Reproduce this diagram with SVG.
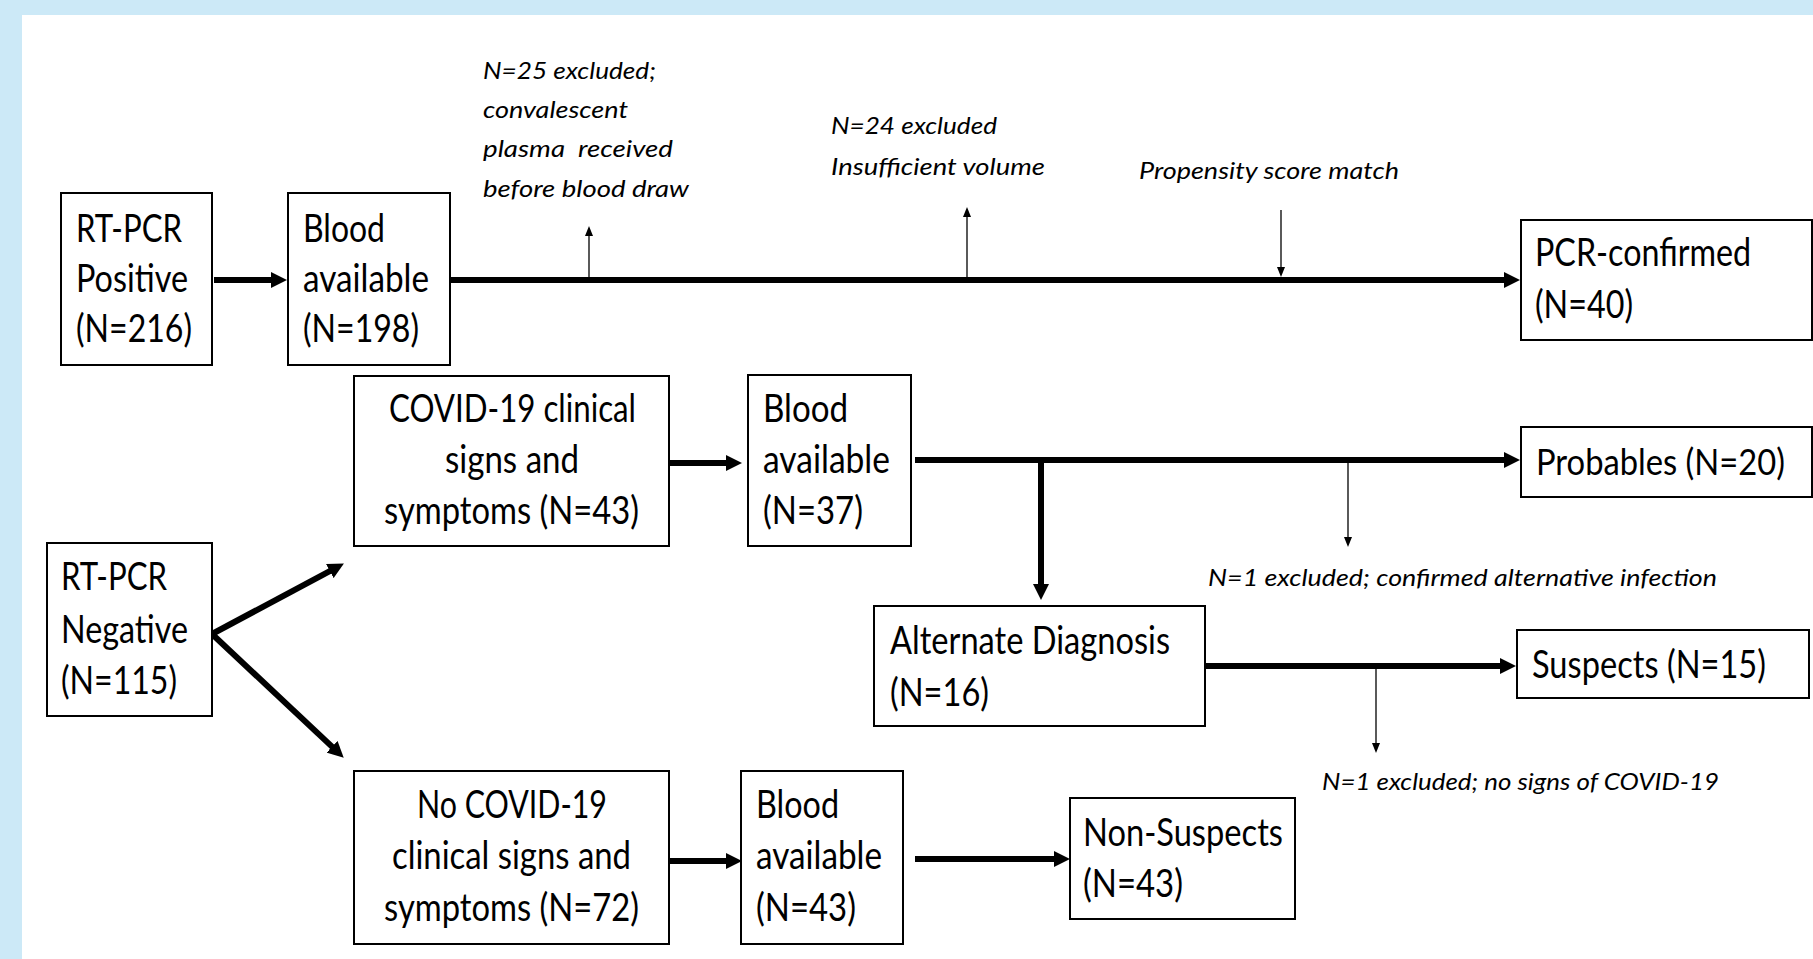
<svg xmlns="http://www.w3.org/2000/svg" width="1813" height="959" viewBox="0 0 1813 959">
<defs>
<style>
.box{fill:#fff;stroke:#000;stroke-width:2}
.t{font-family:Lato,"Open Sans","Liberation Sans",sans-serif;font-size:39px;fill:#000}
.i{font-family:Lato,"Open Sans","Liberation Sans",sans-serif;font-size:24px;font-style:italic;fill:#000}
.thick{stroke:#000;stroke-width:6;fill:none}
.thin{stroke:#000;stroke-width:1.3;fill:none}
</style>
<marker id="ah" viewBox="0 0 16 16" markerWidth="16" markerHeight="16" refX="1" refY="8" orient="auto" markerUnits="userSpaceOnUse">
<path d="M0,0 L16,8 L0,16 z" fill="#000"/>
</marker>
<marker id="as" viewBox="0 0 10 8" markerWidth="10" markerHeight="8" refX="1" refY="4" orient="auto" markerUnits="userSpaceOnUse">
<path d="M0,0 L10,4 L0,8 z" fill="#000"/>
</marker>
</defs>
<rect x="0" y="0" width="1813" height="959" fill="#CCE9F7"/>
<rect x="22" y="15" width="1791" height="944" fill="#fff"/>

<g id="connectors">
<line class="thick" x1="214" y1="280" x2="272" y2="280" marker-end="url(#ah)"/>
<line class="thick" x1="450" y1="280" x2="1505" y2="280" marker-end="url(#ah)"/>
<line class="thin" x1="589" y1="280" x2="589" y2="235" marker-end="url(#as)"/>
<line class="thin" x1="967" y1="280" x2="967" y2="216" marker-end="url(#as)"/>
<line class="thin" x1="1281" y1="210" x2="1281" y2="268" marker-end="url(#as)"/>
<line class="thick" x1="669" y1="463" x2="727" y2="463" marker-end="url(#ah)"/>
<line class="thick" x1="915" y1="460" x2="1505" y2="460" marker-end="url(#ah)"/>
<line class="thick" x1="1041" y1="460" x2="1041" y2="585" marker-end="url(#ah)"/>
<line class="thin" x1="1348" y1="460" x2="1348" y2="538" marker-end="url(#as)"/>
<line class="thick" x1="1205" y1="666" x2="1501" y2="666" marker-end="url(#ah)"/>
<line class="thin" x1="1376" y1="666" x2="1376" y2="744" marker-end="url(#as)"/>
<line class="thick" x1="212" y1="634" x2="330.7" y2="570.6" marker-end="url(#ah)"/>
<line class="thick" x1="212" y1="634" x2="332.8" y2="747.4" marker-end="url(#ah)"/>
<line class="thick" x1="669" y1="861" x2="727" y2="861" marker-end="url(#ah)"/>
<line class="thick" x1="915" y1="859" x2="1055" y2="859" marker-end="url(#ah)"/>
</g>

<g id="labels">
<text class="i" x="483" y="79" textLength="173" lengthAdjust="spacingAndGlyphs">N=25 excluded;</text>
<text class="i" x="483" y="118" textLength="145" lengthAdjust="spacingAndGlyphs">convalescent</text>
<text class="i" x="483" y="157" textLength="190" lengthAdjust="spacingAndGlyphs" xml:space="preserve">plasma  received</text>
<text class="i" x="483" y="197" textLength="206" lengthAdjust="spacingAndGlyphs">before blood draw</text>
<text class="i" x="831" y="134" textLength="166" lengthAdjust="spacingAndGlyphs">N=24 excluded</text>
<text class="i" x="831" y="175" textLength="214" lengthAdjust="spacingAndGlyphs">Insufficient volume</text>
<text class="i" x="1139" y="179" textLength="260" lengthAdjust="spacingAndGlyphs">Propensity score match</text>
<text class="i" x="1208" y="586" textLength="509" lengthAdjust="spacingAndGlyphs">N=1 excluded; confirmed alternative infection</text>
<text class="i" x="1322" y="790" textLength="397" lengthAdjust="spacingAndGlyphs">N=1 excluded; no signs of COVID-19</text>
</g>

<g id="rtpcr-positive">
<rect class="box" x="61" y="193" width="151" height="172"/>
<text class="t" x="76" y="242" textLength="106" lengthAdjust="spacingAndGlyphs">RT-PCR</text>
<text class="t" x="76" y="292" textLength="112" lengthAdjust="spacingAndGlyphs">Positive</text>
<text class="t" x="76" y="342" textLength="116" lengthAdjust="spacingAndGlyphs">(N=216)</text>
</g>
<g id="blood-198">
<rect class="box" x="288" y="193" width="162" height="172"/>
<text class="t" x="303" y="242" textLength="82" lengthAdjust="spacingAndGlyphs">Blood</text>
<text class="t" x="303" y="292" textLength="126" lengthAdjust="spacingAndGlyphs">available</text>
<text class="t" x="303" y="342" textLength="116" lengthAdjust="spacingAndGlyphs">(N=198)</text>
</g>
<g id="pcr-confirmed">
<rect class="box" x="1521" y="220" width="291" height="120"/>
<text class="t" x="1535" y="266" textLength="216" lengthAdjust="spacingAndGlyphs">PCR-confirmed</text>
<text class="t" x="1535" y="318" textLength="98" lengthAdjust="spacingAndGlyphs">(N=40)</text>
</g>
<g id="covid-signs">
<rect class="box" x="354" y="376" width="315" height="170"/>
<text class="t" x="389" y="422" textLength="247" lengthAdjust="spacingAndGlyphs">COVID-19 clinical</text>
<text class="t" x="445" y="473" textLength="134" lengthAdjust="spacingAndGlyphs">signs and</text>
<text class="t" x="384" y="524" textLength="255" lengthAdjust="spacingAndGlyphs">symptoms (N=43)</text>
</g>
<g id="blood-37">
<rect class="box" x="748" y="375" width="163" height="171"/>
<text class="t" x="763" y="422" textLength="85" lengthAdjust="spacingAndGlyphs">Blood</text>
<text class="t" x="763" y="473" textLength="127" lengthAdjust="spacingAndGlyphs">available</text>
<text class="t" x="763" y="524" textLength="100" lengthAdjust="spacingAndGlyphs">(N=37)</text>
</g>
<g id="probables">
<rect class="box" x="1521" y="427" width="291" height="70"/>
<text class="t" x="1536" y="475" style="font-size:36px" textLength="249" lengthAdjust="spacingAndGlyphs">Probables (N=20)</text>
</g>
<g id="rtpcr-negative">
<rect class="box" x="47" y="543" width="165" height="173"/>
<text class="t" x="61" y="590" textLength="106" lengthAdjust="spacingAndGlyphs">RT-PCR</text>
<text class="t" x="61" y="643" textLength="127" lengthAdjust="spacingAndGlyphs">Negative</text>
<text class="t" x="61" y="694" textLength="116" lengthAdjust="spacingAndGlyphs">(N=115)</text>
</g>
<g id="alternate-diagnosis">
<rect class="box" x="874" y="606" width="331" height="120"/>
<text class="t" x="890" y="654" textLength="280" lengthAdjust="spacingAndGlyphs">Alternate Diagnosis</text>
<text class="t" x="890" y="706" textLength="99" lengthAdjust="spacingAndGlyphs">(N=16)</text>
</g>
<g id="suspects">
<rect class="box" x="1517" y="630" width="292" height="68"/>
<text class="t" x="1532" y="678" textLength="234" lengthAdjust="spacingAndGlyphs">Suspects (N=15)</text>
</g>
<g id="no-covid-signs">
<rect class="box" x="354" y="771" width="315" height="173"/>
<text class="t" x="417" y="818" textLength="190" lengthAdjust="spacingAndGlyphs">No COVID-19</text>
<text class="t" x="392" y="869" textLength="239" lengthAdjust="spacingAndGlyphs">clinical signs and</text>
<text class="t" x="384" y="921" textLength="255" lengthAdjust="spacingAndGlyphs">symptoms (N=72)</text>
</g>
<g id="blood-43">
<rect class="box" x="741" y="771" width="162" height="173"/>
<text class="t" x="756" y="818" textLength="83" lengthAdjust="spacingAndGlyphs">Blood</text>
<text class="t" x="756" y="869" textLength="126" lengthAdjust="spacingAndGlyphs">available</text>
<text class="t" x="756" y="921" textLength="100" lengthAdjust="spacingAndGlyphs">(N=43)</text>
</g>
<g id="non-suspects">
<rect class="box" x="1070" y="798" width="225" height="121"/>
<text class="t" x="1083" y="846" textLength="200" lengthAdjust="spacingAndGlyphs">Non-Suspects</text>
<text class="t" x="1083" y="897" textLength="100" lengthAdjust="spacingAndGlyphs">(N=43)</text>
</g>
</svg>
